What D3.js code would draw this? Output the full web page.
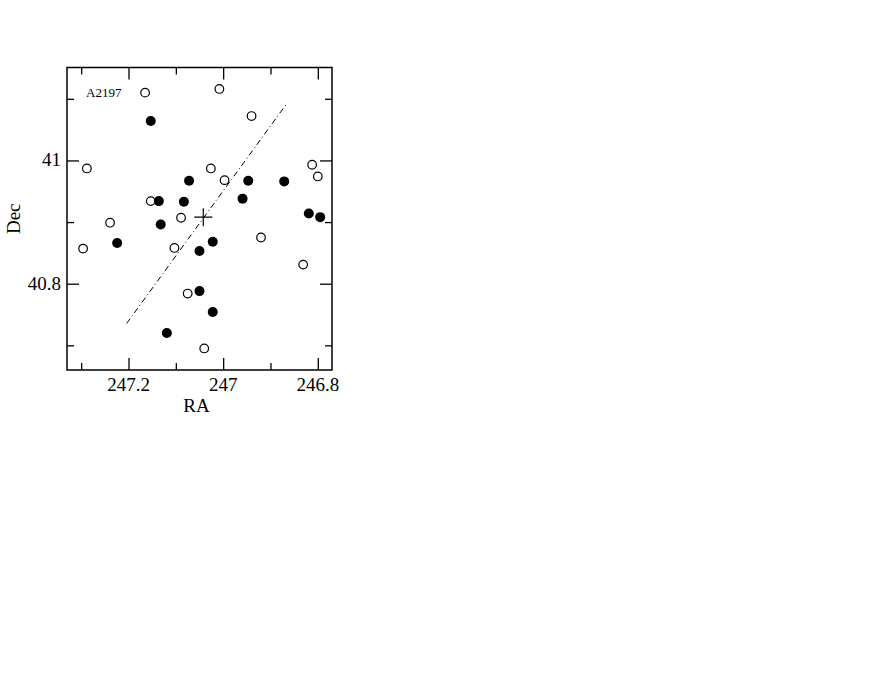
<!DOCTYPE html>
<html>
<head>
<meta charset="utf-8">
<title>A2197</title>
<style>
  body { margin: 0; background: #fff; }
  svg text { font-family: "Liberation Serif", "DejaVu Serif", serif; fill: #000; }
</style>
</head>
<body>
<div id="chart"></div>
<script src="https://cdn.jsdelivr.net/npm/d3@7"></script>
<script>
// galaxies with open symbols (RA, Dec)
var openRA  = [247.165, 247.008, 246.940, 247.288, 247.026, 246.812, 246.800, 246.997, 247.153,
               247.089, 247.239, 247.296, 247.103, 246.920, 246.831, 247.075, 247.040];
var openDec = [41.110, 41.116, 41.072, 40.987, 40.987, 40.993, 40.974, 40.968, 40.934,
               40.907, 40.899, 40.857, 40.858, 40.875, 40.831, 40.784, 40.695];
// galaxies with filled symbols
var fillRA  = [247.153, 247.072, 246.947, 246.871, 247.136, 247.083, 246.959, 247.132,
               246.819, 246.795, 247.224, 247.050, 247.022, 247.050, 247.022, 247.119];
var fillDec = [41.064, 40.967, 40.967, 40.966, 40.934, 40.933, 40.938, 40.896,
               40.914, 40.908, 40.866, 40.853, 40.868, 40.788, 40.754, 40.720];
// cluster centre and axis line
var centre  = [247.042, 40.908];
var lineRA  = [247.204, 246.868];
var lineDec = [40.7355, 41.0897];
var xTicks = [247.2, 247, 246.8];
var xMinor = [247.3, 247.1, 246.9];
var yTicks = [40.8, 41];
var yMinor = [40.7, 40.9, 41.1];
var label = "A2197";

var W = 872, H = 674;
var pl = 67, pr = 332, pt = 67.5, pb = 370;

var svg = d3.select('#chart').append('svg').attr('width', W).attr('height', H);

// RA increases to the left
var x = d3.scaleLinear().domain([247.33, 246.77]).range([pl, pr]);
var y = d3.scaleLinear().domain([40.66, 41.1508]).range([pb, pt]);

var fmt = d => String(+d.toFixed(1));

// axes with inward ticks on all sides
function ticks(axis, vals, size) { return axis.tickValues(vals).tickSize(size).tickSizeOuter(0).tickFormat(''); }

svg.append('g').attr('transform', 'translate(0,' + pb + ')').call(ticks(d3.axisTop(x), xTicks, 12));
svg.append('g').attr('transform', 'translate(0,' + pb + ')').call(ticks(d3.axisTop(x), xMinor, 7));
svg.append('g').attr('transform', 'translate(0,' + pt + ')').call(ticks(d3.axisBottom(x), xTicks, 12));
svg.append('g').attr('transform', 'translate(0,' + pt + ')').call(ticks(d3.axisBottom(x), xMinor, 7));
svg.append('g').attr('transform', 'translate(' + pl + ',0)').call(ticks(d3.axisRight(y), yTicks, 12));
svg.append('g').attr('transform', 'translate(' + pl + ',0)').call(ticks(d3.axisRight(y), yMinor, 7));
svg.append('g').attr('transform', 'translate(' + pr + ',0)').call(ticks(d3.axisLeft(y), yTicks, 12));
svg.append('g').attr('transform', 'translate(' + pr + ',0)').call(ticks(d3.axisLeft(y), yMinor, 7));
svg.selectAll('.domain').remove();
svg.selectAll('.tick line').attr('stroke', '#000').attr('stroke-width', 1.3);

// frame
svg.append('rect').attr('x', pl).attr('y', pt)
   .attr('width', pr - pl).attr('height', pb - pt)
   .attr('fill', 'none').attr('stroke', '#000').attr('stroke-width', 1.5);

// tick labels
svg.selectAll('.xl').data(xTicks).enter().append('text')
   .attr('x', d => x(d)).attr('y', pb + 21)
   .attr('text-anchor', 'middle').style('font-size', '19px').text(fmt);
svg.selectAll('.yl').data(yTicks).enter().append('text')
   .attr('x', pl - 6).attr('y', d => y(d) + 6)
   .attr('text-anchor', 'end').style('font-size', '19px').text(fmt);

svg.append('text').attr('x', (pl + pr) / 2 - 3).attr('y', pb + 42)
   .attr('text-anchor', 'middle').style('font-size', '19px').text('RA');
svg.append('text').attr('transform', 'translate(20,' + ((pt + pb) / 2) + ') rotate(-90)')
   .attr('text-anchor', 'middle').style('font-size', '19px').text('Dec');

svg.append('text').attr('x', pl + 19).attr('y', pt + 29)
   .style('font-size', '13px').text(label);

// axis line (dash-dot)
svg.append('line')
   .attr('x1', x(lineRA[0])).attr('y1', y(lineDec[0]))
   .attr('x2', x(lineRA[1])).attr('y2', y(lineDec[1]))
   .attr('stroke', '#000').attr('stroke-width', 1)
   .attr('stroke-dasharray', '6,3,1,3');

// open circles
svg.selectAll('.op').data(d3.range(openRA.length)).enter().append('circle')
   .attr('cx', i => x(openRA[i])).attr('cy', i => y(openDec[i])).attr('r', 4.3)
   .attr('fill', '#fff').attr('stroke', '#000').attr('stroke-width', 1.2);

// filled circles
svg.selectAll('.fp').data(d3.range(fillRA.length)).enter().append('circle')
   .attr('cx', i => x(fillRA[i])).attr('cy', i => y(fillDec[i])).attr('r', 5)
   .attr('fill', '#000');

// centre cross
var cx = x(centre[0]), cy = y(centre[1]), s = 9;
svg.append('path')
   .attr('d', 'M' + (cx - s) + ',' + cy + 'H' + (cx + s) + 'M' + cx + ',' + (cy - s) + 'V' + (cy + s))
   .attr('stroke', '#000').attr('stroke-width', 1.2).attr('fill', 'none');
</script>
</body>
</html>
